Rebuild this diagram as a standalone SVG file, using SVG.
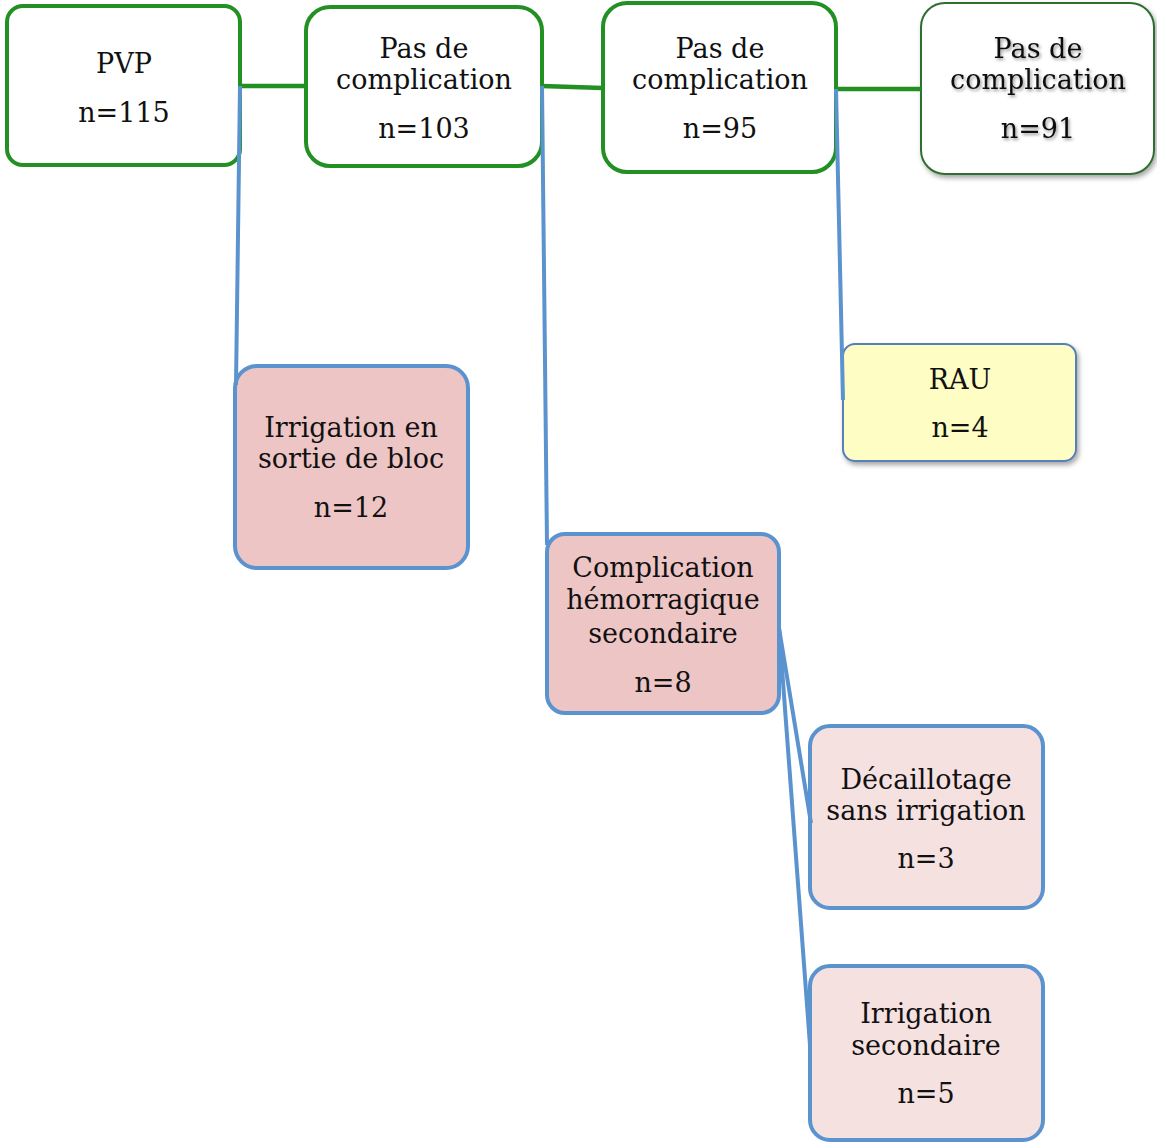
<svg xmlns="http://www.w3.org/2000/svg" width="1157" height="1142" viewBox="0 0 1157 1142">
<defs>
<filter id="sh" x="-10%" y="-10%" width="125%" height="130%">
<feDropShadow dx="2" dy="3" stdDeviation="2.5" flood-color="#000" flood-opacity="0.35"/>
</filter>
<filter id="tsh" x="-10%" y="-20%" width="125%" height="150%">
<feDropShadow dx="1.5" dy="2" stdDeviation="1.5" flood-color="#000" flood-opacity="0.4"/>
</filter>
<style>
text{font-family:"DejaVu Serif","Liberation Serif",serif;font-size:27px;fill:#111;text-anchor:middle}
.g{fill:#fff;stroke:#229022;stroke-width:4}
.g2{fill:#fff;stroke:#2f6e2f;stroke-width:2}
.p{fill:#edc5c5;stroke:#5b93cf;stroke-width:4}
.lp{fill:#f6e1e1;stroke:#5b93cf;stroke-width:4}
.y{fill:#fdfdc4;stroke:#5680b8;stroke-width:2}
.cg{stroke:#229022;stroke-width:4.5;fill:none}
.cb{stroke:#5b93cf;stroke-width:4;fill:none}
</style>
</defs>
<g id="n-pvp">
<rect class="g" x="7" y="6" width="233" height="159" rx="16"/>
<text x="124" y="73">PVP</text>
<text x="124" y="122">n=115</text>
</g>
<g id="n-pas1">
<rect class="g" x="306" y="7" width="236" height="159" rx="24"/>
<text x="424" y="58">Pas de</text>
<text x="424" y="89">complication</text>
<text x="424" y="138">n=103</text>
</g>
<g id="n-pas2">
<rect class="g" x="603" y="3" width="233" height="169" rx="24"/>
<text x="720" y="58">Pas de</text>
<text x="720" y="89">complication</text>
<text x="720" y="138">n=95</text>
</g>
<g id="n-pas3">
<rect class="g2" x="921" y="3" width="233" height="171" rx="24" filter="url(#sh)"/>
<g filter="url(#tsh)">
<text x="1038" y="58">Pas de</text>
<text x="1038" y="89">complication</text>
<text x="1038" y="138">n=91</text>
</g>
</g>
<g id="n-irrig-bloc">
<rect class="p" x="235" y="366" width="233" height="202" rx="22"/>
<text x="351" y="437">Irrigation en</text>
<text x="351" y="468">sortie de bloc</text>
<text x="351" y="517">n=12</text>
</g>
<g id="n-hemo">
<rect class="p" x="547" y="534" width="232" height="179" rx="18"/>
<text x="663" y="577">Complication</text>
<text x="663" y="609">hémorragique</text>
<text x="663" y="643">secondaire</text>
<text x="663" y="692">n=8</text>
</g>
<g id="n-rau">
<rect class="y" x="843" y="344" width="233" height="117" rx="12" filter="url(#sh)"/>
<text x="960" y="389">RAU</text>
<text x="960" y="437">n=4</text>
</g>
<g id="n-decaill">
<rect class="lp" x="810" y="726" width="233" height="182" rx="20"/>
<text x="926" y="789">Décaillotage</text>
<text x="926" y="820">sans irrigation</text>
<text x="926" y="868">n=3</text>
</g>
<g id="n-irrig-sec">
<rect class="lp" x="810" y="966" width="233" height="174" rx="20"/>
<text x="926" y="1023">Irrigation</text>
<text x="926" y="1055">secondaire</text>
<text x="926" y="1103">n=5</text>
</g>
<g id="connectors">
<line class="cg" x1="240" y1="86" x2="306" y2="86"/>
<line class="cg" x1="542" y1="86" x2="603" y2="88"/>
<line class="cg" x1="836" y1="89" x2="921" y2="89"/>
<line class="cb" x1="240" y1="86" x2="236" y2="385"/>
<line class="cb" x1="542" y1="86" x2="547" y2="545"/>
<line class="cb" x1="836" y1="89" x2="843" y2="400"/>
<line class="cb" x1="779" y1="628" x2="811" y2="823"/>
<line class="cb" x1="779" y1="628" x2="810" y2="1045"/>
</g>
</svg>
